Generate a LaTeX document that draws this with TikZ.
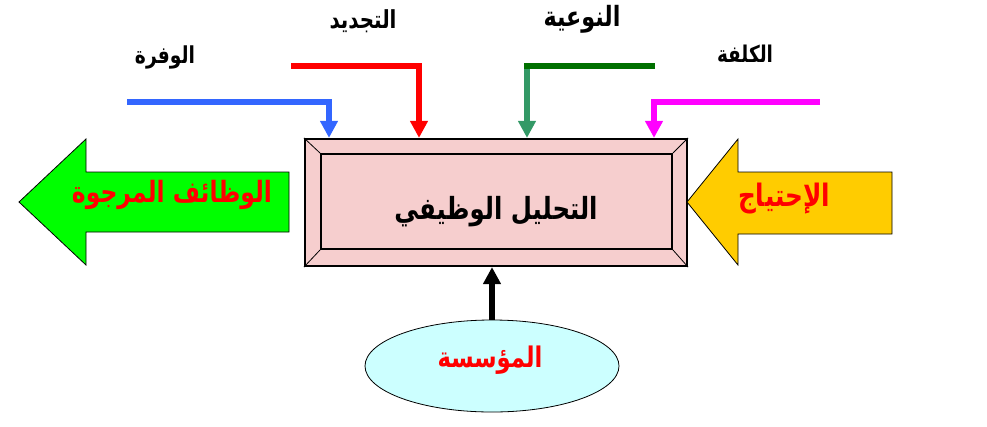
\documentclass[tikz,border=0pt]{standalone}
\usepackage{fontspec}
\usepackage{graphicx}
\usetikzlibrary{arrows.meta,shapes.geometric}
\TeXXeTstate=1
\newfontfamily\arabicfont[Script=Arabic]{DejaVu Sans}
\newcommand\artxt[2]{\scalebox{1}[1.25]{\resizebox{#1}{!}{\arabicfont\bfseries #2}}}
\definecolor{cblue}{RGB}{51,102,255}
\definecolor{cred}{RGB}{255,0,0}
\definecolor{cdgreen}{RGB}{0,112,0}
\definecolor{csgreen}{RGB}{51,153,102}
\definecolor{cmag}{RGB}{255,0,255}
\definecolor{cpink}{RGB}{246,206,206}
\definecolor{cgreen}{RGB}{0,255,0}
\definecolor{cyellow}{RGB}{255,204,0}
\definecolor{ccyan}{RGB}{204,255,255}
\tikzset{
  feed/.style={line width=6pt, -{Triangle[width=17pt,length=17pt]}},
  plainfeed/.style={line width=6pt},
  bigarrow/.style={draw=black, line width=0.8pt},
  lbl/.style={inner sep=0pt, text=black},
  redlbl/.style={inner sep=0pt, text=cred},
}
\begin{document}
\begin{tikzpicture}[x=1pt,y=-1pt]
\useasboundingbox (0,0) rectangle (987,426);
% central box
\node[draw=black, line width=2.2pt, fill=cpink, minimum width=382pt, minimum height=127pt, inner sep=0pt] (box) at (496,202.5) {};
\node[draw=black, line width=2pt, minimum width=351pt, minimum height=95pt, inner sep=0pt] (inner) at (496.5,201.5) {};
\draw[line width=0.8pt] (box.north west) -- (inner.north west);
\draw[line width=0.8pt] (box.north east) -- (inner.north east);
\draw[line width=0.8pt] (box.south west) -- (inner.south west);
\draw[line width=0.8pt] (box.south east) -- (inner.south east);
\node[lbl] (main) at (496,212) {\artxt{203pt}{\beginR التحليل الوظيفي\endR}};
% left green arrow
\draw[bigarrow, fill=cgreen] (289,172) -- (86,172) -- (86,139) -- (19,202) -- (86,265) -- (86,232) -- (289,232) -- cycle;
\node[redlbl] (out) at (172,195) {\artxt{200pt}{\beginR الوظائف المرجوة\endR}};
% right yellow arrow
\draw[bigarrow, fill=cyellow] (892,172) -- (738,172) -- (738,139) -- (687,202) -- (738,265) -- (738,234) -- (892,234) -- cycle;
\node[redlbl] (need) at (784,199) {\artxt{92pt}{\beginR الإحتياج\endR}};
% ellipse
\node[ellipse, draw=black, line width=0.8pt, fill=ccyan, minimum width=254pt, minimum height=92pt, inner sep=0pt] (org) at (492,366) {};
\node[redlbl] (orgt) at (490,360) {\artxt{105pt}{\beginR المؤسسة\endR}};
\draw[feed, draw=black] (org.north) -- (box.south -| org.north);
% top labels
\node[lbl] (l1) at (165,57) {\artxt{60pt}{\beginR الوفرة\endR}};
\node[lbl] (l2) at (363,21) {\artxt{67pt}{\beginR التجديد\endR}};
\node[lbl] (l3) at (582,19) {\artxt{77pt}{\beginR النوعية\endR}};
\node[lbl] (l4) at (745,54) {\artxt{56pt}{\beginR الكلفة\endR}};
% feeds
\coordinate (b0) at (127,102);
\coordinate (b1) at (329,102);
\draw[plainfeed, draw=cblue] (b0) -- ([xshift=3pt]b1);
\draw[feed, draw=cblue] (b1) -- (box.north -| b1);
\coordinate (r0) at (291,66);
\coordinate (r1) at (419,66);
\draw[plainfeed, draw=cred] (r0) -- ([xshift=3pt]r1);
\draw[feed, draw=cred] (r1) -- (box.north -| r1);
\coordinate (g0) at (655,66);
\coordinate (g1) at (527,66);
\draw[plainfeed, draw=cdgreen] (g0) -- ([xshift=-3pt]g1);
\draw[feed, draw=csgreen] ([yshift=-3pt]g1) -- (box.north -| g1);
\coordinate (m0) at (820,102);
\coordinate (m1) at (654,102);
\draw[plainfeed, draw=cmag] (m0) -- ([xshift=-3pt]m1);
\draw[feed, draw=cmag] (m1) -- (box.north -| m1);
\end{tikzpicture}
\end{document}
